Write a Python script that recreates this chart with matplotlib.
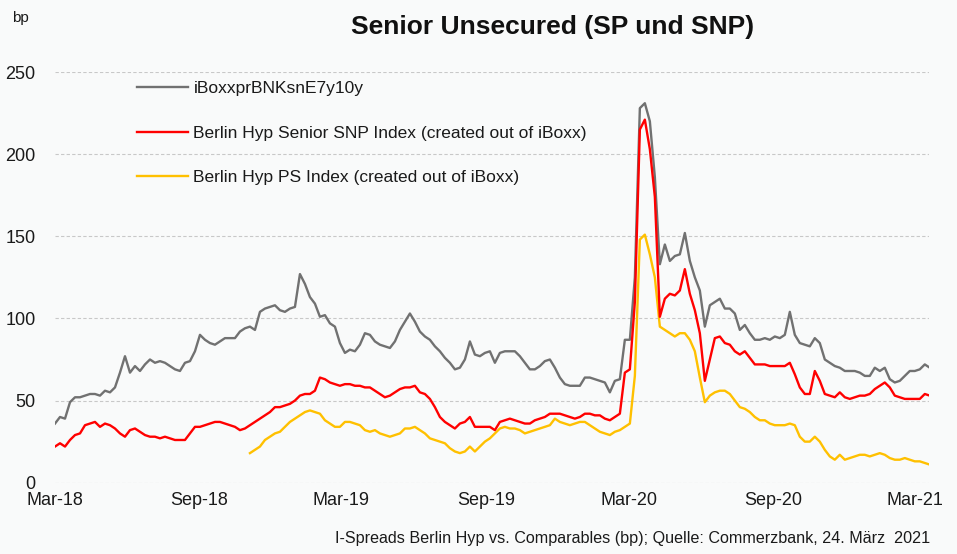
"""
I-Spreads Berlin Hyp vs. Comparables: Senior Unsecured (SP und SNP)
values read off the Commerzbank chart, one point roughly every 6 days
"""
import numpy as np
import pandas as pd
import matplotlib
matplotlib.use("Agg")
import matplotlib.pyplot as plt
import matplotlib.dates as mdates

plt.rcParams['font.family'] = ['Liberation Sans', 'DejaVu Sans']

# common date grid, Mar-18 .. Mar-21
dates = pd.date_range('2018-03-01', '2021-03-20', periods=176)

iboxx = [36, 40, 39, 49, 52, 52, 53, 54, 54, 53, 56, 55, 58, 67, 77, 67, 71, 68, 72, 75,
         73, 74, 73, 71, 69, 68, 73, 74, 80, 90, 87, 85, 84, 86, 88, 88, 88, 92, 94, 95,
         93, 104, 106, 107, 108, 105, 104, 106, 107, 127, 121, 113, 109, 101, 102, 97, 95, 85, 79, 81,
         80, 84, 91, 90, 86, 84, 83, 82, 86, 93, 98, 103, 98, 92, 89, 87, 83, 80, 76, 73,
         69, 70, 75, 86, 78, 77, 79, 80, 73, 79, 80, 80, 80, 77, 73, 69, 69, 71, 74, 75,
         70, 64, 60, 59, 59, 59, 64, 64, 63, 62, 61, 55, 62, 63, 87, 87, 125, 228, 231, 220,
         186, 133, 145, 135, 138, 139, 152, 135, 125, 117, 95, 108, 110, 112, 106, 106, 103, 93, 96, 91,
         87, 87, 88, 87, 89, 88, 90, 104, 90, 85, 84, 83, 88, 85, 75, 73, 71, 70, 68, 68,
         68, 67, 65, 65, 70, 68, 70, 63, 61, 62, 65, 68, 68, 69, 72, 70]

snp = [22, 24, 22, 26, 29, 30, 35, 36, 37, 34, 36, 35, 33, 30, 28, 32, 33, 31, 29, 28,
       28, 27, 28, 27, 26, 26, 26, 30, 34, 34, 35, 36, 37, 37, 36, 35, 34, 32, 33, 35,
       37, 39, 41, 43, 46, 46, 47, 48, 50, 53, 54, 54, 56, 64, 63, 61, 60, 59, 60, 60,
       59, 59, 58, 58, 56, 54, 52, 53, 55, 57, 58, 58, 59, 55, 54, 51, 46, 40, 37, 35,
       33, 36, 37, 40, 34, 34, 34, 34, 32, 37, 38, 39, 38, 37, 36, 36, 38, 39, 40, 42,
       42, 42, 41, 40, 39, 40, 42, 42, 41, 41, 39, 38, 40, 42, 67, 69, 110, 215, 221, 203,
       174, 101, 112, 115, 114, 117, 130, 115, 105, 91, 62, 75, 88, 89, 85, 84, 80, 78, 80, 76,
       72, 72, 72, 71, 71, 71, 71, 73, 66, 58, 54, 54, 68, 62, 54, 53, 52, 55, 52, 51,
       52, 53, 53, 54, 57, 59, 61, 58, 53, 52, 51, 51, 51, 51, 54, 53]

# PS index only starts in autumn 2018
ps = [np.nan] * 39 + [
    18, 20, 22, 26, 28, 30, 31, 34, 37, 39, 41, 43, 44, 43, 42, 38, 36, 34, 34, 37,
    37, 36, 35, 32, 31, 32, 30, 29, 28, 29, 30, 33, 33, 34, 32, 30, 27, 26, 25, 24,
    21, 19, 18, 19, 22, 19, 22, 25, 27, 30, 33, 34, 33, 33, 32, 30, 31, 32, 33, 34,
    35, 39, 37, 36, 35, 36, 37, 37, 35, 33, 31, 30, 29, 31, 32, 34, 36, 65, 148, 151,
    139, 125, 95, 93, 91, 89, 91, 91, 87, 80, 64, 49, 53, 55, 56, 56, 54, 50, 46, 45,
    43, 40, 38, 38, 36, 35, 35, 35, 36, 35, 28, 25, 25, 28, 25, 20, 16, 14, 17, 14,
    15, 16, 17, 17, 16, 17, 18, 17, 15, 14, 14, 15, 14, 13, 13, 12, 11]

labels = ['iBoxxprBNKsnE7y10y',
          'Berlin Hyp Senior SNP Index (created out of iBoxx)',
          'Berlin Hyp PS Index (created out of iBoxx)']
colors = ['#717171', '#ff0000', '#ffc000']

bg = '#f9fafa'
fig = plt.figure(figsize=(9.57, 5.54), dpi=100, facecolor=bg)
ax = fig.add_axes([55 / 957, 71.3 / 554, 874 / 957, 410.7 / 554], facecolor=bg)

h1, = ax.plot(dates, iboxx, color=colors[0], lw=1.7, zorder=3)
h3, = ax.plot(dates, ps, color=colors[2], lw=1.7, zorder=4)
h2, = ax.plot(dates, snp, color=colors[1], lw=1.7, zorder=5)

ax.set_ylim(0, 250)
ax.set_yticks(range(0, 251, 50))
ax.set_xlim(pd.Timestamp('2018-03-01'), pd.Timestamp('2021-03-19'))
ax.xaxis.set_major_locator(mdates.MonthLocator(bymonth=[3, 9]))
ax.xaxis.set_major_formatter(mdates.DateFormatter('%b-%y'))

ax.grid(axis='y', color='#c8c8c8', lw=0.8, ls=(0, (3, 2)))
ax.set_axisbelow(True)
for s in ax.spines.values():
    s.set_visible(False)
ax.tick_params(axis='y', length=0, pad=14, labelsize=13, labelcolor='#1a1a1a')
ax.tick_params(axis='x', length=0, pad=7, labelsize=13, labelcolor='#1a1a1a')

leg = ax.legend([h1, h2, h3], labels, loc='upper left',
                bbox_to_anchor=(137 / 957, 1 - 81 / 554), bbox_transform=fig.transFigure,
                frameon=False, fontsize=12.5, handlelength=2.95, handletextpad=0.3,
                labelspacing=1.7, borderpad=0, borderaxespad=0)
for t in leg.get_texts():
    t.set_color('#1a1a1a')

fig.text(553 / 957, 1 - 27 / 554, 'Senior Unsecured (SP und SNP)', ha='center', va='center',
         fontsize=19, fontweight='bold', color='#111111')
fig.text(12 / 957, 1 - 18 / 554, 'bp', ha='left', va='center', fontsize=11, color='#1a1a1a')
fig.text(930 / 957, 1 - 539 / 554,
         'I-Spreads Berlin Hyp vs. Comparables (bp); Quelle: Commerzbank, 24. März  2021',
         ha='right', va='center', fontsize=11.6, color='#1a1a1a')

fig.savefig('out.png', dpi=100, facecolor=bg)
